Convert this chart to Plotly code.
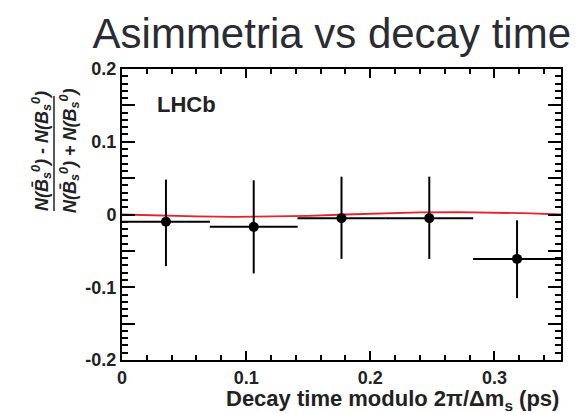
import plotly.graph_objects as go

# ---- data ----
bin_centers = [0.0354, 0.1061, 0.1768, 0.2475, 0.3182]
bin_halfwidth = [0.0354, 0.0354, 0.0354, 0.0354, 0.0354]
asym = [-0.010, -0.017, -0.005, -0.005, -0.061]
err_up = [0.058, 0.064, 0.057, 0.057, 0.053]
err_down = [0.061, 0.064, 0.056, 0.056, 0.054]

fit_t = [0.0, 0.03, 0.06, 0.09, 0.12, 0.15, 0.18, 0.21, 0.24, 0.27, 0.30, 0.33, 0.3536]
fit_a = [0.0, -0.0015, -0.0027, -0.0032, -0.0030, -0.0018, 0.0000, 0.0017, 0.0030, 0.0034, 0.0028, 0.0015, 0.0]

x_range = [0.0, 0.3536]
y_range = [-0.2, 0.2]
y_tickvals = [-0.2, -0.15, -0.1, -0.05, 0.0, 0.05, 0.1, 0.15, 0.2]
y_ticktext = ["-0.2", "", "-0.1", "", "0", "", "0.1", "", "0.2"]
x_tickvals = [0.0, 0.1, 0.2, 0.3]
x_ticktext = ["0", "0.1", "0.2", "0.3"]

W, H = 579, 413
L, R, T, B = 114, 26, 61, 61
pw, ph = W - L - R, H - T - B

FONT = "Liberation Sans, Arial, Helvetica, sans-serif"

fig = go.Figure()
fig.add_trace(go.Scatter(
    x=fit_t, y=fit_a, mode="lines",
    line=dict(color="#e8212b", width=1.8), hoverinfo="skip", showlegend=False))
fig.add_trace(go.Scatter(
    x=bin_centers, y=asym, mode="markers",
    marker=dict(color="black", size=10, symbol="circle"),
    error_x=dict(type="data", array=bin_halfwidth, symmetric=True, width=0, thickness=2, color="black"),
    error_y=dict(type="data", array=err_up, arrayminus=err_down, symmetric=False, width=0, thickness=2, color="black"),
    showlegend=False))

axis_common = dict(
    showgrid=False, zeroline=False, showline=True, linecolor="black", linewidth=2,
    ticks="inside", mirror="ticks", tickcolor="black", tickwidth=2,
    tickfont=dict(family=FONT, size=18, color="#222222", weight="bold"),
)

fig.update_layout(
    width=W, height=H,
    margin=dict(l=L, r=R, t=T, b=B, pad=0),
    paper_bgcolor="white", plot_bgcolor="white",
    title=dict(text="Asimmetria vs decay time", x=563 / W, xanchor="right",
               y=1 - 25 / H, yanchor="middle", yref="container",
               font=dict(family=FONT, size=42, color="#2b2b33")),
    xaxis=dict(range=x_range, tickvals=x_tickvals, ticktext=x_ticktext, ticklen=9,
               minor=dict(dtick=0.02, tick0=0, ticklen=5, tickwidth=1.5, ticks="inside", tickcolor="black"),
               **axis_common),
    yaxis=dict(range=y_range, tickvals=y_tickvals, ticktext=y_ticktext, ticklen=13,
               minor=dict(dtick=0.01, tick0=0, ticklen=6, tickwidth=1.5, ticks="inside", tickcolor="black"),
               **axis_common),
)

ann_font = dict(family=FONT, size=18, color="#222222")
fig.add_annotation(text="<b>LHCb</b>", xref="paper", yref="paper",
                   x=(147 - L) / pw, y=1 - (96 - T) / ph, xanchor="left", yanchor="middle",
                   showarrow=False, font=dict(family=FONT, size=22, color="#222222"))
fig.add_annotation(text="<b>Decay time modulo 2π/Δm<sub>s</sub> (ps)</b>", xref="paper", yref="paper",
                   x=1, y=-(392 - T - ph) / ph, xanchor="right", yanchor="middle",
                   showarrow=False, font=dict(family=FONT, size=22, color="#222222"))
# y-axis fraction title
fig.add_annotation(text="<b><i>N(B̄<sub>s</sub><sup>0</sup>) - N(B<sub>s</sub><sup>0</sup>)</i></b>",
                   xref="paper", yref="paper", x=(33 - L) / pw, y=1 - (143 - T) / ph,
                   xanchor="center", yanchor="middle", textangle=-90, showarrow=False, font=ann_font)
fig.add_annotation(text="<b><i>N(B̄<sub>s</sub><sup>0</sup>) + N(B<sub>s</sub><sup>0</sup>)</i></b>",
                   xref="paper", yref="paper", x=(61 - L) / pw, y=1 - (143 - T) / ph,
                   xanchor="center", yanchor="middle", textangle=-90, showarrow=False, font=ann_font)
fig.add_shape(type="line", xref="paper", yref="paper",
              x0=(46 - L) / pw, x1=(46 - L) / pw, y0=1 - (88 - T) / ph, y1=1 - (203 - T) / ph,
              line=dict(color="#222222", width=1.5))

fig.write_html("out.html")
